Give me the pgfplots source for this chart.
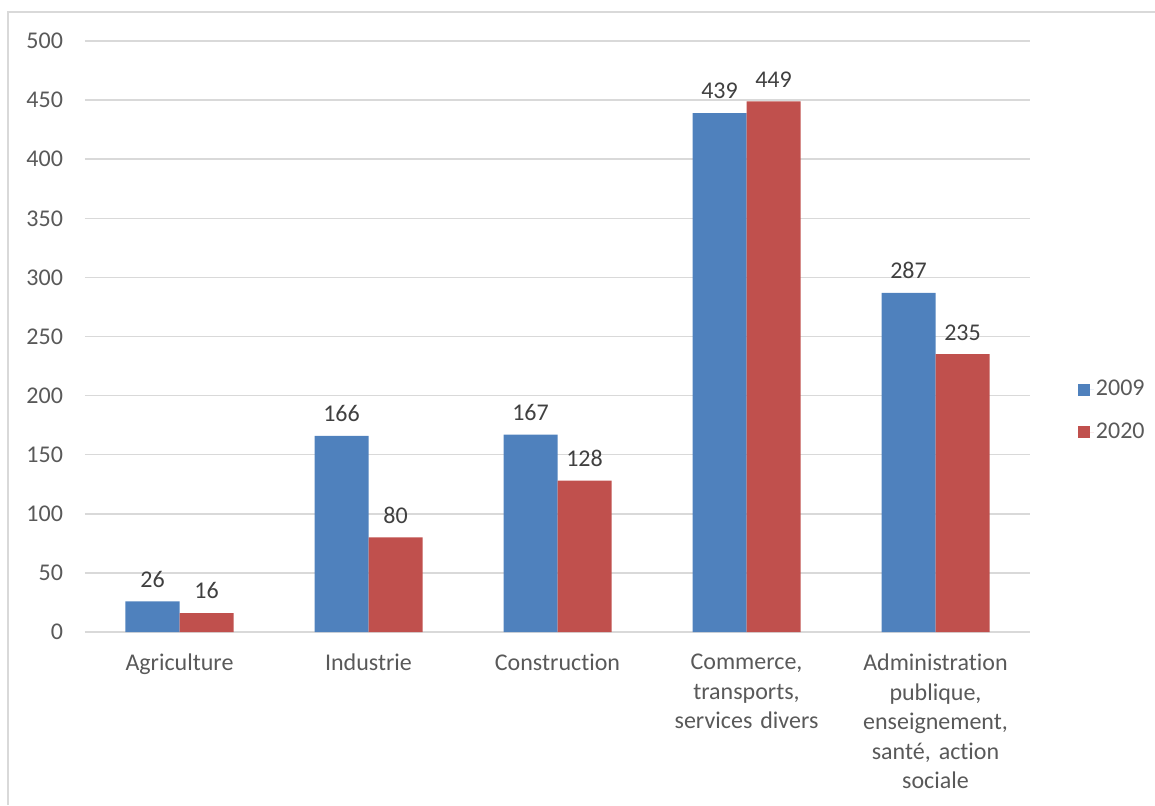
\documentclass[border=0pt]{standalone}
\usepackage{fontspec}
\setmainfont[Ligatures={NoCommon}]{Carlito}
\usepackage{pgfplots}
\pgfplotsset{compat=1.18}
\definecolor{bar09}{RGB}{79,129,189}
\definecolor{bar20}{RGB}{192,80,77}
\definecolor{txt}{RGB}{89,89,89}
\definecolor{lbl}{RGB}{64,64,64}
\definecolor{gridc}{RGB}{217,217,217}
\begin{document}
\begin{tikzpicture}[font=\fontsize{12}{14.75}\selectfont]
\path[use as bounding box] (0,0) rectangle (577.5pt,402.5pt);
\draw[gridc, line width=0.75pt] (4pt,0) -- (4pt,396.5pt) -- (577.5pt,396.5pt);
\begin{axis}[
    at={(42.5pt,86.5pt)}, anchor=south west,
    scale only axis, width=472.5pt, height=295.5pt,
    xmin=-0.5, xmax=4.5, ymin=0, ymax=500,
    ybar=0pt, bar width=27pt,
    ytick={0,50,...,500},
    xtick={0,1,2,3,4},
    xticklabels={Agriculture, Industrie, Construction,
        {Commerce,\\transports,\\services divers},
        {Administration\\publique,\\enseignement,\\santé, action\\sociale}},
    axis line style={draw=none},
    major tick length=0pt,
    tick style={draw=none},
    ymajorgrids, grid style={gridc, line width=0.75pt},
    /pgf/number format/assume math mode=true,
    ticklabel style={font=\fontsize{12}{14.75}\selectfont, text=txt},
    yticklabel style={xshift=-7.5pt},
    xticklabel style={align=center, text width=85pt, yshift=-7.5pt},
    nodes near coords,
    every node near coord/.append style={font=\fontsize{12}{14.75}\selectfont, text=lbl, yshift=3.5pt},
    legend style={at={(1.044,0.374)}, anchor=west, draw=none, fill=none,
        font=\fontsize{12}{14.75}\selectfont, text=txt, row sep=10pt,
        nodes={inner sep=1pt}},
    legend cell align=left,
    legend image code/.code={\fill[#1] (0pt,-3pt) rectangle (6pt,3pt); \path (0pt,0pt) -- (8pt,0pt);},
]
\addplot[fill=bar09, draw=none] coordinates {(0,26) (1,166) (2,167) (3,439) (4,287)};
\addplot[fill=bar20, draw=none] coordinates {(0,16) (1,80) (2,128) (3,449) (4,235)};
\legend{2009,2020}
\end{axis}
\end{tikzpicture}
\end{document}
